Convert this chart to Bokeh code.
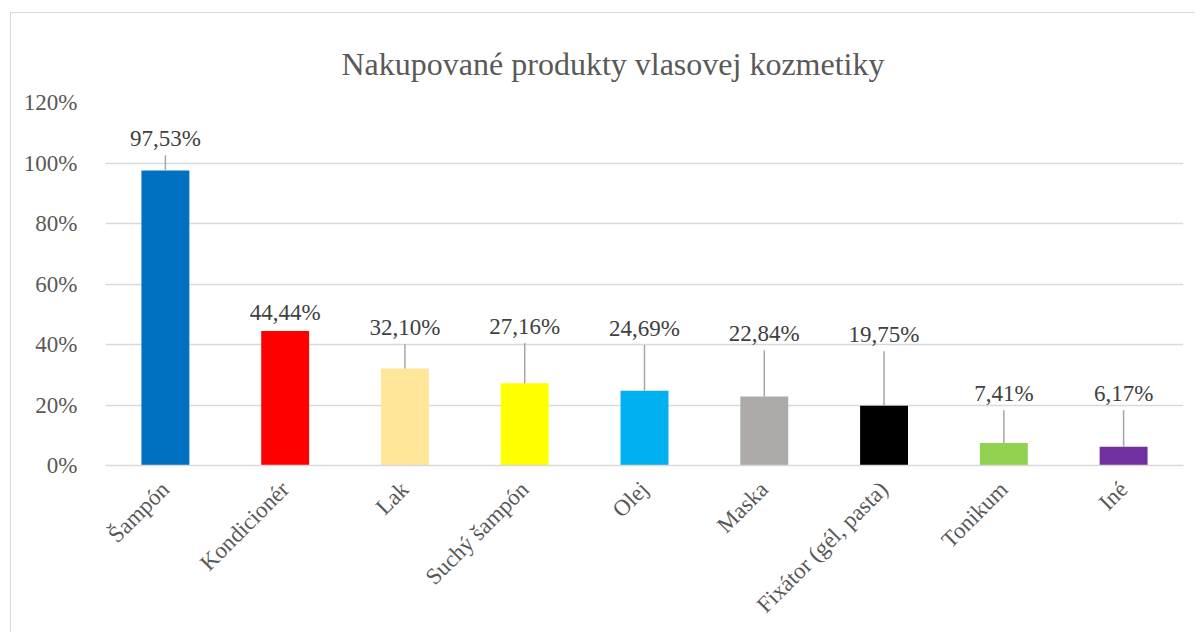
from math import pi
from bokeh.plotting import figure
from bokeh.models import Range1d, FixedTicker, PrintfTickFormatter, ColumnDataSource, Title
from bokeh.core.properties import value
from bokeh.embed import file_html
from bokeh.resources import INLINE

title_text = "Nakupované produkty vlasovej kozmetiky"
categories = ["Šampón", "Kondicionér", "Lak", "Suchý šampón", "Olej", "Maska",
              "Fixátor (gél, pasta)", "Tonikum", "Iné"]
values = [97.53, 44.44, 32.10, 27.16, 24.69, 22.84, 19.75, 7.41, 6.17]
colors = ["#0070C0", "#FF0000", "#FFE699", "#FFFF00", "#00B0F0", "#AEAAAA",
          "#000000", "#92D050", "#7030A0"]
# data label positions (percent) as placed in the original chart
label_y = [108.1, 50.6, 45.6, 46.0, 45.3, 43.6, 43.3, 23.8, 23.8]
y_ticks = [0, 20, 40, 60, 80, 100, 120]

FONT = "Liberation Serif"
W, H = 1185, 620

p = figure(x_range=categories, y_range=Range1d(0, 120), width=W, height=H,
           output_backend="svg", toolbar_location=None,
           min_border_left=94, min_border_right=13,
           min_border_top=89, min_border_bottom=168)
p.styles = {"margin-left": "10px", "margin-top": "12px",
            "border-left": "1px solid #d9d9d9", "border-top": "1px solid #d9d9d9"}

p.add_layout(Title(text=title_text, align="left", offset=236, text_font=FONT,
                   text_font_size="32px", text_font_style="normal",
                   vertical_align="middle", standoff=40,
                   text_color="#595959"), "above")

p.outline_line_color = None
p.background_fill_color = "white"
p.border_fill_color = "white"

src = ColumnDataSource(dict(cat=categories, val=values, col=colors,
                            ly=label_y,
                            txt=[f"{v:.2f}".replace(".", ",") + "%" for v in values]))
p.vbar(x="cat", top="val", width=0.4, fill_color="col", line_color=None, source=src)

# leader lines
gap = 5.5
seg = dict(x=[], y0=[], y1=[])
for c, v, ly in zip(categories, values, label_y):
    if ly - gap > v + 1.5:
        seg["x"].append(c)
        seg["y0"].append(v)
        seg["y1"].append(ly - gap)
p.segment(x0="x", y0="y0", x1="x", y1="y1", source=ColumnDataSource(seg),
          line_color="#a6a6a6", line_width=1.5)

p.text(x="cat", y="ly", text="txt", source=src, text_font=value(FONT),
       text_font_size="23px", text_color="#404040", text_align="center",
       text_baseline="middle")

p.xgrid.grid_line_color = None
p.ygrid.grid_line_color = "#d9d9d9"
p.ygrid.grid_line_width = 1.5
p.yaxis.ticker = FixedTicker(ticks=y_ticks)
p.yaxis.formatter = PrintfTickFormatter(format="%d%%")
p.yaxis.axis_line_color = None
p.yaxis.major_tick_line_color = None
p.yaxis.minor_tick_line_color = None
p.yaxis.major_label_standoff = 22
p.xaxis.axis_line_color = "#d9d9d9"
p.xaxis.axis_line_width = 1.5
p.xaxis.major_tick_line_color = None
p.xaxis.major_label_orientation = pi / 4
p.xaxis.major_label_standoff = 14
for ax in (p.xaxis, p.yaxis):
    ax.major_label_text_font = FONT
    ax.major_label_text_font_size = "23px"
    ax.major_label_text_color = "#595959"

open("out.html", "w").write(file_html(p, INLINE))
